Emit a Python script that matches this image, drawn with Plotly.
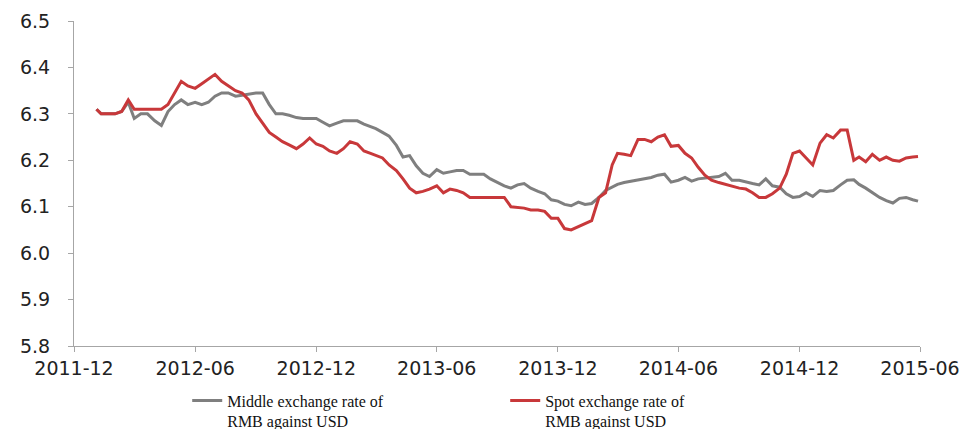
import plotly.graph_objects as go

dates = [
    "2012-01-04", "2012-01-11", "2012-01-21", "2012-02-01", "2012-02-11", "2012-02-21",
    "2012-03-01", "2012-03-11", "2012-03-21", "2012-04-01", "2012-04-11", "2012-04-21",
    "2012-05-01", "2012-05-11", "2012-05-21", "2012-06-01", "2012-06-11", "2012-06-21",
    "2012-07-01", "2012-07-11", "2012-07-21", "2012-08-01", "2012-08-11", "2012-08-21",
    "2012-09-01", "2012-09-11", "2012-09-21", "2012-10-01", "2012-10-11", "2012-10-21",
    "2012-11-01", "2012-11-11", "2012-11-21", "2012-12-01", "2012-12-11", "2012-12-21",
    "2013-01-01", "2013-01-11", "2013-01-21", "2013-02-01", "2013-02-11", "2013-02-21",
    "2013-03-01", "2013-03-11", "2013-03-21", "2013-04-01", "2013-04-11", "2013-04-21",
    "2013-05-01", "2013-05-11", "2013-05-21", "2013-06-01", "2013-06-11", "2013-06-21",
    "2013-07-01", "2013-07-11", "2013-07-21", "2013-08-01", "2013-08-11", "2013-08-21",
    "2013-09-01", "2013-09-11", "2013-09-21", "2013-10-01", "2013-10-11", "2013-10-21",
    "2013-11-01", "2013-11-11", "2013-11-21", "2013-12-01", "2013-12-11", "2013-12-21",
    "2014-01-01", "2014-01-11", "2014-01-21", "2014-02-01", "2014-02-11", "2014-02-21",
    "2014-03-01", "2014-03-11", "2014-03-21", "2014-04-01", "2014-04-11", "2014-04-21",
    "2014-05-01", "2014-05-11", "2014-05-21", "2014-06-01", "2014-06-11", "2014-06-21",
    "2014-07-01", "2014-07-11", "2014-07-21", "2014-08-01", "2014-08-11", "2014-08-21",
    "2014-09-01", "2014-09-11", "2014-09-21", "2014-10-01", "2014-10-11", "2014-10-21",
    "2014-11-01", "2014-11-11", "2014-11-21", "2014-12-01", "2014-12-11", "2014-12-21",
    "2015-01-01", "2015-01-11", "2015-01-21", "2015-02-01", "2015-02-11", "2015-02-21",
    "2015-03-01", "2015-03-11", "2015-03-21", "2015-04-01", "2015-04-11", "2015-04-21",
    "2015-05-01", "2015-05-11", "2015-05-21", "2015-05-29",
]

# middle (central parity) rate
middle_rate = [
    6.310, 6.300, 6.300, 6.300, 6.305, 6.325,
    6.290, 6.300, 6.300, 6.285, 6.275, 6.305,
    6.320, 6.330, 6.320, 6.325, 6.320, 6.325,
    6.338, 6.345, 6.345, 6.338, 6.340, 6.343,
    6.345, 6.345, 6.320, 6.300, 6.300, 6.297,
    6.292, 6.290, 6.290, 6.290, 6.282, 6.274,
    6.280, 6.285, 6.285, 6.285, 6.278, 6.272,
    6.268, 6.260, 6.252, 6.232, 6.207, 6.210,
    6.188, 6.172, 6.165, 6.180, 6.172, 6.175,
    6.178, 6.178, 6.170, 6.170, 6.170, 6.160,
    6.152, 6.145, 6.140, 6.147, 6.150, 6.140,
    6.133, 6.128, 6.115, 6.112, 6.105, 6.102,
    6.110, 6.105, 6.107, 6.120, 6.135, 6.142,
    6.148, 6.152, 6.155, 6.157, 6.160, 6.163,
    6.168, 6.170, 6.153, 6.157, 6.163, 6.155,
    6.160, 6.162, 6.163, 6.165, 6.172, 6.157,
    6.157, 6.153, 6.150, 6.147, 6.160, 6.145,
    6.142, 6.128, 6.120, 6.122, 6.130, 6.122,
    6.135, 6.133, 6.135, 6.147, 6.157, 6.158,
    6.148, 6.140, 6.130, 6.120, 6.113, 6.108,
    6.118, 6.120, 6.115, 6.112,
]

# spot rate
spot_rate = [
    6.310, 6.300, 6.300, 6.300, 6.305, 6.330,
    6.310, 6.310, 6.310, 6.310, 6.310, 6.320,
    6.345, 6.370, 6.360, 6.355, 6.365, 6.375,
    6.385, 6.370, 6.360, 6.350, 6.345, 6.330,
    6.300, 6.280, 6.260, 6.250, 6.240, 6.233,
    6.225, 6.235, 6.248, 6.235, 6.230, 6.220,
    6.215, 6.225, 6.240, 6.235, 6.220, 6.215,
    6.210, 6.205, 6.190, 6.178, 6.160, 6.140,
    6.130, 6.133, 6.138, 6.145, 6.130, 6.138,
    6.135, 6.130, 6.120, 6.120, 6.120, 6.120,
    6.120, 6.120, 6.100, 6.098, 6.097, 6.093,
    6.093, 6.090, 6.075, 6.075, 6.053, 6.050,
    6.057, 6.065, 6.070, 6.120, 6.130, 6.190,
    6.215, 6.213, 6.210, 6.245, 6.245, 6.240,
    6.250, 6.255, 6.230, 6.232, 6.215, 6.205,
    6.185, 6.168, 6.157, 6.152, 6.148, 6.143,
    6.140, 6.138, 6.130, 6.120, 6.120, 6.128,
    6.140, 6.170, 6.215, 6.220, 6.205, 6.190,
    6.237, 6.255, 6.248, 6.265, 6.265, 6.200,
    6.207, 6.197, 6.213, 6.200, 6.207, 6.200,
    6.198, 6.205, 6.207, 6.208,
]

tick_dates = ["2011-12-01", "2012-06-01", "2012-12-01", "2013-06-01",
              "2013-12-01", "2014-06-01", "2014-12-01", "2015-06-01"]
tick_labels = ["2011-12", "2012-06", "2012-12", "2013-06",
               "2013-12", "2014-06", "2014-12", "2015-06"]

fig = go.Figure()
fig.add_trace(go.Scatter(x=dates, y=middle_rate, mode="lines",
                         name="Middle exchange rate of<br>RMB against USD",
                         line=dict(color="#7f7f7f", width=3)))
fig.add_trace(go.Scatter(x=dates, y=spot_rate, mode="lines",
                         name="Spot exchange rate of<br>RMB against USD",
                         line=dict(color="#c8383a", width=3)))

axis_font = dict(family="DejaVu Sans", size=19, color="#222222")
fig.update_layout(
    width=965, height=429,
    margin=dict(l=74, r=45, t=21, b=83, autoexpand=False),
    plot_bgcolor="white", paper_bgcolor="white",
    showlegend=True,
    legend=dict(orientation="h", xref="container", yref="container",
                x=0.194, xanchor="left", y=0.106, yanchor="top",
                font=dict(family="Liberation Serif", size=16, color="#111111"),
                entrywidth=273, valign="top", bgcolor="rgba(0,0,0,0)"),
    xaxis=dict(type="date", range=["2011-12-01", "2015-06-01"],
               tickvals=tick_dates, ticktext=tick_labels,
               showgrid=False, zeroline=False, automargin=False,
               showline=True, linecolor="#a6a6a6", linewidth=1,
               ticks="outside", ticklen=5, tickcolor="#a6a6a6",
               tickfont=axis_font),
    yaxis=dict(range=[5.8, 6.5], dtick=0.1, tickformat=".1f",
               showgrid=False, zeroline=False, automargin=False,
               showline=True, linecolor="#a6a6a6", linewidth=1,
               ticks="outside", ticklen=5, tickcolor="#a6a6a6",
               ticklabelstandoff=14, tickfont=axis_font),
)

# drop the browser's default 8px body margin so the figure sits at the page corner
fig.write_html("out.html", config={"displayModeBar": False},
               post_script="document.body.style.margin='0';")
